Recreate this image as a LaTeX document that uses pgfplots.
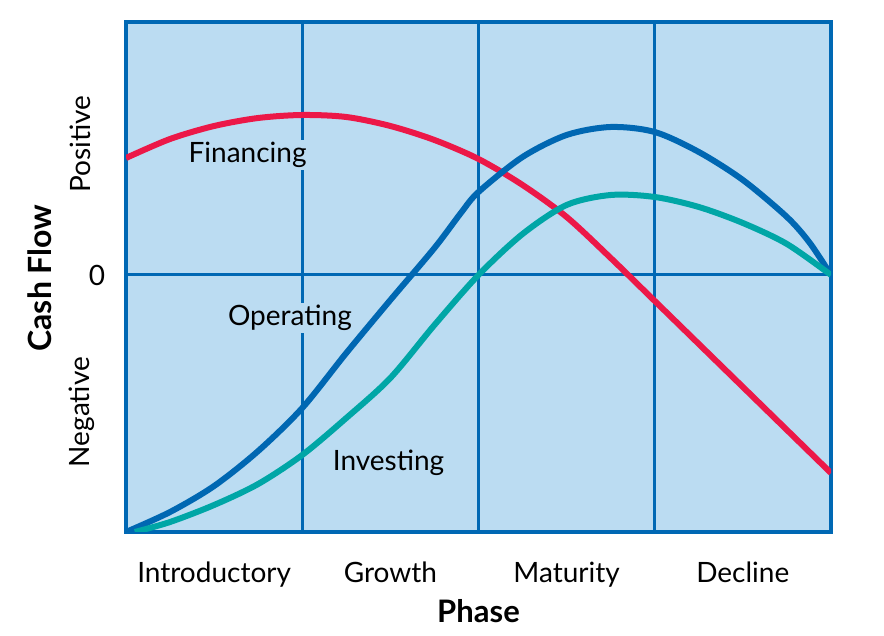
\documentclass[border=0pt]{standalone}
\usepackage{pgfplots}
\pgfplotsset{compat=1.18}
\usepackage{fontspec}
\setmainfont{Lato}
\definecolor{bgblue}{RGB}{187,220,242}
\definecolor{gridblue}{RGB}{0,104,180}
\definecolor{finred}{RGB}{236,24,72}
\definecolor{opblue}{RGB}{0,103,178}
\definecolor{invteal}{RGB}{0,166,166}
\begin{document}
\begin{tikzpicture}
\begin{axis}[
  scale only axis,
  width=352.5pt, height=255pt,
  xmin=0, xmax=4, ymin=-2.57, ymax=2.53,
  axis background/.style={fill=bgblue},
  axis line style={draw=gridblue, line width=2pt},
  xtick={1,2,3}, xticklabels={},
  ytick={0}, yticklabels={},
  major tick length=0pt,
  grid=major,
  grid style={draw=gridblue, line width=1.5pt},
  clip=true,
]
\addplot[finred, line width=3pt, smooth] coordinates {
 (0,1.17) (0.25,1.36) (0.5,1.49) (0.75,1.57) (1.0,1.60) (1.25,1.58)
 (1.5,1.49) (1.75,1.35) (2.0,1.16) (2.25,0.90) (2.5,0.58) (2.75,0.17)
 (3.0,-0.26) (3.25,-0.69) (3.5,-1.12) (3.75,-1.55) (4.0,-1.98)
};
\addplot[opblue, line width=3pt, smooth] coordinates {
 (0,-2.57) (0.25,-2.37) (0.5,-2.11) (0.75,-1.76) (1.0,-1.33) (1.25,-0.78)
 (1.5,-0.25) (1.75,0.27) (1.9,0.62) (2.0,0.83) (2.25,1.18) (2.5,1.40)
 (2.75,1.48) (3.0,1.43) (3.25,1.23) (3.5,0.95) (3.75,0.58) (3.88,0.32) (4.0,0.0)
};
\addplot[invteal, line width=3pt, smooth] coordinates {
 (0.05,-2.57) (0.25,-2.47) (0.5,-2.30) (0.75,-2.09) (1.0,-1.80) (1.25,-1.43)
 (1.5,-1.03) (1.75,-0.50) (2.0,0.0) (2.25,0.41) (2.5,0.70) (2.75,0.80)
 (3.0,0.78) (3.25,0.68) (3.5,0.52) (3.75,0.31) (4.0,0.0)
};
\node[fill=bgblue, inner sep=1pt, font=\fontsize{14}{16}\selectfont] at (axis cs:0.69,1.20) {Financing};
\node[fill=bgblue, inner sep=1pt, font=\fontsize{14}{16}\selectfont] at (axis cs:0.93,-0.43) {Operating};
\node[font=\fontsize{14}{16}\selectfont] at (axis cs:1.49,-1.88) {Investing};
\end{axis}
\begin{scope}[font=\fontsize{14}{16}\selectfont]
\node[anchor=base] at (44.06pt,-25.5pt) {Introductory};
\node[anchor=base] at (132.2pt,-25.5pt) {Growth};
\node[anchor=base] at (220.3pt,-25.5pt) {Maturity};
\node[anchor=base] at (308.4pt,-25.5pt) {Decline};
\node[anchor=base, font=\fontsize{15.5}{18}\selectfont\bfseries] at (176.25pt,-45.5pt) {Phase};
\node[rotate=90] at (-23pt,194pt) {Positive};
\node at (-14.5pt,128.5pt) {0};
\node[rotate=90] at (-22pt,60pt) {Negative};
\node[rotate=90, font=\fontsize{16}{18}\selectfont\bfseries] at (-43pt,127pt) {Cash Flow};
\end{scope}
\pgfresetboundingbox
\path (-63pt,-52pt) rectangle (379pt,266pt);
\end{tikzpicture}
\end{document}
